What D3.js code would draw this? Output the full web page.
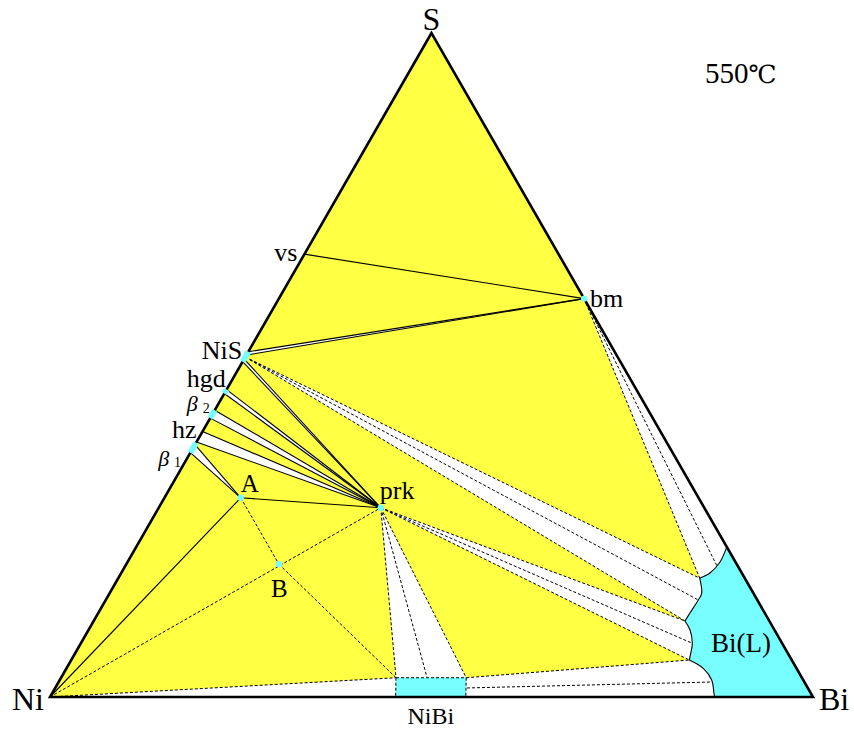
<!DOCTYPE html>
<html><head><meta charset="utf-8">
<script src="https://cdn.jsdelivr.net/npm/d3@7"></script>
<style>
body{margin:0;background:#fff}
svg{display:block}
text{font-family:"Liberation Serif","Times New Roman",serif;fill:#000}
</style>
</head><body>
<svg id="c" width="854" height="731"></svg>
<script>
// ---- DATA: compositions as [name, at% S, at% Bi]; Ni = 100 - S - Bi ----
const vertexComps = [["S",100,0],["Ni",0,0],["Bi",0,100]];
const edgePhaseComps = [
  ["vs",66.7,0],
  ["NiS_a",52.0,0],["NiS_b",51.5,0],["NiS_c",51.2,0],["NiS_d",50.9,0],["NiS_e",50.5,0],
  ["hgd_a",46.3,0],["hgd_b",45.7,0],
  ["b2_a",43.2,0],["b2_b",42.0,0],
  ["hz_a",40.0,0],["hz_b",38.4,0],
  ["b1_a",38.3,0],["b1_b",38.0,0],["b1_c",36.8,0]
];
const innerPhaseComps = [
  ["bm",60,40],["A",30,10],["B",20,20],["prk",28.5,29.1],
  ["NiBi_TL",2.9,43.9],["NiBi_TM",3.0,47.9],["NiBi_TR",2.9,53.1],
  ["NiBi_BL",0,45.3],["NiBi_BR",0,54.5],["NiBi_R1",1.36,53.97],
  ["t_bm",19.73,77.55],["t_NiS",14.61,77.66],["t_prk",8.09,80.14],["t_NiBi",2.26,85.6]
];
// Bi(L) liquid boundary, from S-Bi edge (C1) down to Ni-Bi edge (C5)
const liquidC1C2 = [[22.6,77.4],[20.33,77.65],[18.67,77.16],[17.9,76.2]];
const liquidC2C3 = [[17.9,76.2],[15.62,77.6],[14.61,77.66],[12.65,77.55],[11.45,77.5]];
const liquidC3C4 = [[11.45,77.5],[10.09,78.84],[8.09,80.14],[6.57,80.69],[5.57,81.0]];
const liquidC4C5 = [[5.57,81.0],[4.32,83.46],[2.56,85.44],[0.56,86.74],[0,87.1]];

// phase regions
const twoPhaseSimple = [
  ["NiS_a","NiS_b","bm"],
  ["NiS_d","NiS_e","prk"],
  ["hgd_a","hgd_b","prk"],
  ["b2_a","b2_b","prk"],
  ["hz_a","hz_b","prk"],
  ["b1_b","b1_c","A"],
  ["prk","NiBi_TL","NiBi_TR"],
  ["Ni","NiBi_TL","NiBi_BL"]
];
const solidLines = [
  ["vs","bm"],["NiS_a","bm"],["NiS_b","bm"],
  ["NiS_d","prk"],["NiS_e","prk"],["hgd_a","prk"],["hgd_b","prk"],
  ["b2_a","prk"],["b2_b","prk"],["hz_a","prk"],["hz_b","prk"],
  ["b1_b","A"],["b1_c","A"],["Ni","A"],["A","prk"]
];
const dashedLines = [
  ["bm","L2"],["bm","t_bm"],
  ["NiS_c","L2"],["NiS_c","t_NiS"],["NiS_c","L3"],
  ["prk","L3"],["prk","t_prk"],["prk","L4"],
  ["prk","NiBi_TL"],["prk","NiBi_TM"],["prk","NiBi_TR"],
  ["NiBi_TR","L4"],["NiBi_R1","t_NiBi"],
  ["Ni","NiBi_TL"],["Ni","prk"],["A","B"],["B","NiBi_TL"],
  ["NiBi_TL","NiBi_TR"],["NiBi_TL","NiBi_BL"],["NiBi_TR","NiBi_BR"]
];
const edgeSegments = [["NiS_a","NiS_e"],["hgd_a","hgd_b"],["b2_a","b2_b"],["b1_a","b1_c"]];
const dotPoints = ["bm","prk","A","B"];

// ---- SCALES / PROJECTION ----
const xs = d3.scaleLinear().domain([0,100]).range([50,813]);
const ys = d3.scaleLinear().domain([0,100]).range([697,33]);
const proj = (s,bi) => [xs(bi + s/2), ys(s)];

const P = {};
[...vertexComps, ...edgePhaseComps, ...innerPhaseComps].forEach(([n,s,bi]) => P[n] = proj(s,bi));
const arcs = [liquidC1C2, liquidC2C3, liquidC3C4, liquidC4C5].map(a => a.map(([s,bi]) => proj(s,bi)));
P.L1 = arcs[0][0]; P.L2 = arcs[1][0]; P.L3 = arcs[2][0]; P.L4 = arcs[3][0]; P.L5 = arcs[3][arcs[3].length-1];

const svg = d3.select("#c");
const lin = d3.line();
const curve = d3.line().curve(d3.curveCatmullRom.alpha(0.5));
const cont = p => p.replace(/^M/, "L");
const rev = a => a.slice().reverse();

const YEL = "#ffff44", CY = "#77ffff";

// yellow base
svg.append("path").attr("d", lin([P.S,P.Ni,P.Bi]) + "Z").attr("fill", YEL);

// white two-phase regions
const g2 = svg.append("g").attr("fill","#fff");
twoPhaseSimple.forEach(r => g2.append("path").attr("d", lin(r.map(n=>P[n])) + "Z"));
g2.append("path").attr("d", lin([P.bm, P.L2]) + cont(curve(rev(arcs[0]))) + "Z");
g2.append("path").attr("d", lin([P.NiS_c, P.L2]) + cont(curve(arcs[1])) + "Z");
g2.append("path").attr("d", lin([P.prk, P.L3]) + cont(curve(arcs[2])) + "Z");
g2.append("path").attr("d", lin([P.NiBi_BR, P.NiBi_TR, P.L4]) + cont(curve(arcs[3])) + "Z");

// cyan single-phase regions
const liqPath = lin([P.L5, P.Bi, P.L1]) + cont(curve(arcs[0])) + cont(curve(arcs[1])) + cont(curve(arcs[2])) + cont(curve(arcs[3])) + "Z";
svg.append("path").attr("d", liqPath).attr("fill", CY);
svg.append("path").attr("d", lin([P.NiBi_TL,P.NiBi_TR,P.NiBi_BR,P.NiBi_BL]) + "Z").attr("fill", CY);

// lines
const gl = svg.append("g").attr("fill","none").attr("stroke","#000");
solidLines.forEach(([a,b]) => gl.append("path").attr("d", lin([P[a],P[b]])).attr("stroke-width",1.1));
dashedLines.forEach(([a,b]) => gl.append("path").attr("d", lin([P[a],P[b]])).attr("stroke-width",1).attr("stroke-dasharray","3,2"));
arcs.forEach(a => gl.append("path").attr("d", curve(a)).attr("stroke-width",1.1));

// triangle outline
svg.append("path").attr("d", lin([P.S,P.Ni,P.Bi]) + "Z")
  .attr("fill","none").attr("stroke","#000").attr("stroke-width",2.6).attr("stroke-linejoin","miter");

// cyan phases on edge + dots
edgeSegments.forEach(([a,b]) => svg.append("path").attr("d", lin([P[a],P[b]]))
  .attr("stroke",CY).attr("stroke-width",6).attr("fill","none"));
dotPoints.forEach(n => svg.append("circle").attr("cx",P[n][0]).attr("cy",P[n][1]).attr("r",3.2).attr("fill",CY));

// labels
const lab = (t, x, y, size, anchor="start", style="normal", fam=null) => {
  const el = svg.append("text").attr("x",x).attr("y",y).attr("font-size",size).attr("text-anchor",anchor).attr("font-style",style).text(t);
  if (fam) el.style("font-family", fam);
  return el;
};
lab("S", P.S[0], P.S[1]-3, 32, "middle");
lab("Ni", P.Ni[0]-38, P.Ni[1]+13, 32);
lab("Bi", P.Bi[0]+6, P.Bi[1]+13, 32);
const t550 = lab("550", 705, 83, 29);
t550.append("tspan").style("font-family","'DejaVu Serif','Liberation Serif',serif").attr("font-size",25).text("℃");
lab("vs", P.vs[0]-7, P.vs[1]+7, 26, "end");
lab("bm", P.bm[0]+6, P.bm[1]+8, 26);
lab("NiS", P.NiS_c[0]-3, P.NiS_c[1]+2, 26, "end");
lab("hgd", P.hgd_a[0]-1, P.hgd_a[1]-3, 26, "end");
lab("β", P.b2_a[0]-17, P.b2_a[1]+1, 22, "end", "italic");
lab("2", P.b2_a[0]-5, P.b2_a[1]+3, 14, "end");
lab("hz", P.hz_a[0]-6, P.hz_a[1]+7, 26, "end");
lab("β", P.b1_a[0]-27, P.b1_a[1]+23, 22, "end", "italic");
lab("1", P.b1_a[0]-15, P.b1_a[1]+24, 14, "end");
lab("A", P.A[0], P.A[1]-6, 25);
lab("B", P.B[0]-8, P.B[1]+33, 25);
lab("prk", P.prk[0]-1, P.prk[1]-9, 26);
lab("NiBi", (P.NiBi_BL[0]+P.NiBi_BR[0])/2, P.NiBi_BL[1]+27, 24, "middle");
lab("Bi(L)", 711, 652, 27);
</script>
</body></html>
